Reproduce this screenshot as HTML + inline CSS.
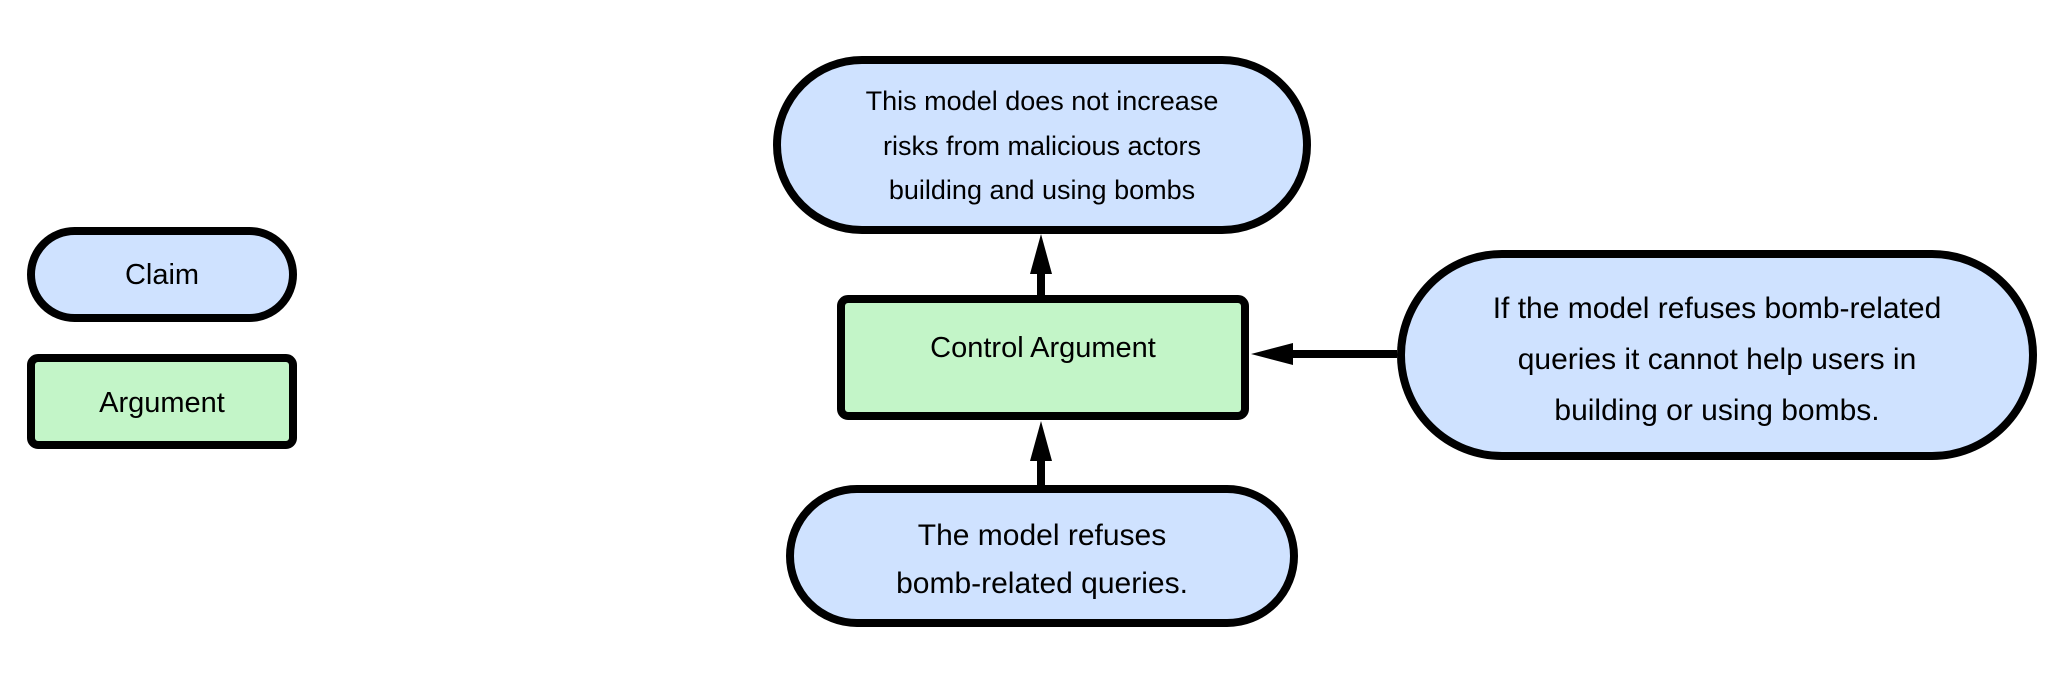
<!DOCTYPE html>
<html><head><meta charset="utf-8"><style>
body{margin:0;width:2048px;height:673px;background:#fff;overflow:hidden}
svg text{font-family:"Liberation Sans",sans-serif;fill:#000;text-anchor:middle}
</style></head><body>
<svg width="2048" height="673" viewBox="0 0 2048 673">
<g stroke="#000" stroke-width="8">
<rect x="31" y="231" width="262" height="87" rx="43.5" fill="#cfe2ff"/>
<rect x="31" y="358" width="262" height="87" rx="7" fill="#c3f5c8"/>
<rect x="777" y="60" width="530" height="170" rx="85" fill="#cfe2ff"/>
<rect x="841" y="299" width="404" height="117" rx="7" fill="#c3f5c8"/>
<rect x="1401" y="254" width="632" height="202" rx="101" fill="#cfe2ff"/>
<rect x="790" y="489" width="504" height="134" rx="67" fill="#cfe2ff"/>
<line x1="1041" y1="295" x2="1041" y2="260"/>
<line x1="1041" y1="486" x2="1041" y2="450"/>
<line x1="1397" y1="354" x2="1285" y2="354"/>
</g>
<g fill="#000">
<polygon points="1041,234 1030,274 1052,274"/>
<polygon points="1041,421 1030,461 1052,461"/>
<polygon points="1251,354 1293,343 1293,365"/>
</g>
<g font-size="29">
<text x="162" y="284">Claim</text>
<text x="162" y="412">Argument</text>
<text x="1043" y="399" dy="-42">Control Argument</text>
</g>
<g font-size="27">
<text x="1042" y="110">This model does not increase</text>
<text x="1042" y="155">risks from malicious actors</text>
<text x="1042" y="199">building and using bombs</text>
</g>
<g font-size="30">
<text x="1717" y="318">If the model refuses  bomb-related</text>
<text x="1717" y="369">queries it cannot  help users in</text>
<text x="1717" y="420">building or using bombs.</text>
<text x="1042" y="545">The model refuses</text>
<text x="1042" y="593">bomb-related queries.</text>
</g>
</svg>
</body></html>
